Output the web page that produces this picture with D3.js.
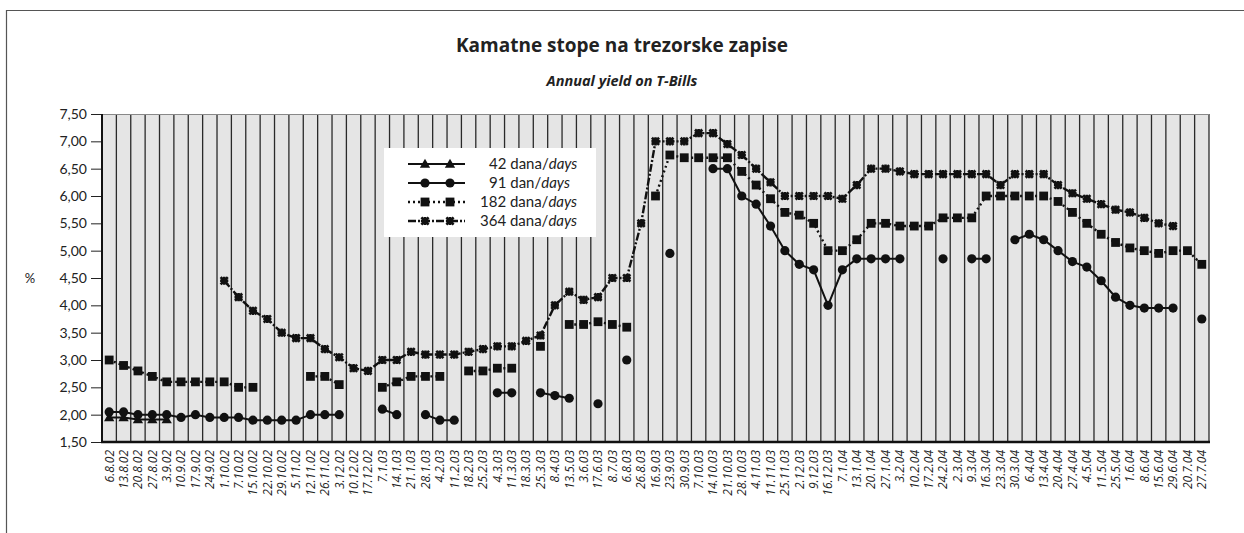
<!DOCTYPE html>
<html><head><meta charset="utf-8">
<script src="https://cdn.jsdelivr.net/npm/d3@7"></script>
<style>
body{margin:0;background:#fff}
svg{display:block}
text{font-family:Lato,"Open Sans",sans-serif;fill:#222}
</style>
</head><body>
<svg id="c" width="1244" height="533"></svg>
<script>
const dates = ["6.8.02","13.8.02","20.8.02","27.8.02","3.9.02","10.9.02","17.9.02","24.9.02","1.10.02","7.10.02","15.10.02","22.10.02","29.10.02","5.11.02","12.11.02","26.11.02","3.12.02","10.12.02","17.12.02","7.1.03","14.1.03","21.1.03","28.1.03","4.2.03","11.2.03","18.2.03","25.2.03","4.3.03","11.3.03","18.3.03","25.3.03","8.4.03","13.5.03","3.6.03","17.6.03","8.7.03","6.8.03","26.8.03","16.9.03","23.9.03","30.9.03","7.10.03","14.10.03","21.10.03","28.10.03","4.11.03","11.11.03","25.11.03","2.12.03","9.12.03","16.12.03","7.1.04","13.1.04","20.1.04","27.1.04","3.2.04","10.2.04","17.2.04","24.2.04","2.3.04","9.3.04","16.3.04","23.3.04","30.3.04","6.4.04","13.4.04","20.4.04","27.4.04","4.5.04","11.5.04","25.5.04","1.6.04","8.6.04","15.6.04","29.6.04","20.7.04","27.7.04"];

const yTicks = [1.5,2.0,2.5,3.0,3.5,4.0,4.5,5.0,5.5,6.0,6.5,7.0,7.5];

const _ = null;
const t42 = [1.95,1.95,1.91,1.91,1.91,_,_,_,_,_,_,_,_,_,_,_,_,_,_,_,_,_,_,_,_,_,_,_,_,_,_,_,_,_,_,_,_,_,_,_,_,_,_,_,_,_,_,_,_,_,_,_,_,_,_,_,_,_,_,_,_,_,_,_,_,_,_,_,_,_,_,_,_,_,_,_,_];

const t91 = [2.05,2.05,2.00,2.00,2.00,1.95,2.00,1.95,1.95,1.95,1.90,1.90,1.90,1.90,2.00,2.00,2.00,_,_,2.10,2.00,_,2.00,1.90,1.90,_,_,2.40,2.40,_,2.40,2.35,2.30,_,2.20,_,3.00,_,_,4.95,_,_,6.50,6.50,6.00,5.85,5.45,5.00,4.75,4.65,4.00,4.65,4.85,4.85,4.85,4.85,_,_,4.85,_,4.85,4.85,_,5.20,5.30,5.20,5.00,4.80,4.70,4.45,4.15,4.00,3.95,3.95,3.95,_,3.75];

const t182 = [3.00,2.90,2.80,2.70,2.60,2.60,2.60,2.60,2.60,2.50,2.50,_,_,_,2.70,2.70,2.55,_,_,2.50,2.60,2.70,2.70,2.70,_,2.80,2.80,2.85,2.85,_,3.25,_,3.65,3.65,3.70,3.65,3.60,_,6.00,6.75,6.70,6.70,6.70,6.70,6.45,6.20,5.95,5.70,5.65,5.50,5.00,5.00,5.20,5.50,5.50,5.45,5.45,5.45,5.60,5.60,5.60,6.00,6.00,6.00,6.00,6.00,5.90,5.70,5.50,5.30,5.15,5.05,5.00,4.95,5.00,5.00,4.75];

const t364 = [_,_,_,_,_,_,_,_,4.45,4.15,3.90,3.75,3.50,3.40,3.40,3.20,3.05,2.85,2.80,3.00,3.00,3.15,3.10,3.10,3.10,3.15,3.20,3.25,3.25,3.35,3.45,4.00,4.25,4.10,4.15,4.50,4.50,5.50,7.00,7.00,7.00,7.15,7.15,6.95,6.75,6.50,6.25,6.00,6.00,6.00,6.00,5.95,6.20,6.50,6.50,6.45,6.40,6.40,6.40,6.40,6.40,6.40,6.20,6.40,6.40,6.40,6.20,6.05,5.95,5.85,5.75,5.70,5.60,5.50,5.45,_,_];

const seriesLabels = ["42 dana/","91 dan/","182 dana/","364 dana/"];
const seriesSuffix = "days";
const titleText = "Kamatne stope na trezorske zapise";
const subtitleText = "Annual yield on T-Bills";

const svg = d3.select("#c");
const L = 102, R = 1209, T = 114, B = 442;

// outer frame
svg.append("path").attr("d","M6.5,540 V10.5 H1250").attr("fill","none").attr("stroke","#555").attr("stroke-width",1.2);

const x = d3.scaleBand().domain(dates).range([L,R]).padding(0);
const y = d3.scaleLinear().domain([1.5,7.5]).range([B,T]);

// plot background
svg.append("rect").attr("x",L).attr("y",T).attr("width",R-L).attr("height",B-T).attr("fill","#e5e5e5");

// vertical grid lines at category boundaries
const bounds = dates.slice(1).map(d=>x(d)).concat([R]);
svg.append("g").selectAll("line").data(bounds).join("line")
  .attr("x1",d=>d).attr("x2",d=>d).attr("y1",T).attr("y2",B)
  .attr("stroke","#2a2a2a").attr("stroke-width",1.3);
svg.append("line").attr("x1",L).attr("x2",R).attr("y1",T+0.5).attr("y2",T+0.5).attr("stroke","#888").attr("stroke-width",1);

// y axis
const yAxis = d3.axisLeft(y).tickValues(yTicks).tickSize(11).tickPadding(4)
  .tickFormat(d=>d3.format(".2f")(d).replace(".",","));
const gy = svg.append("g").attr("transform",`translate(${L},0)`).call(yAxis);
gy.select(".domain").remove();
gy.selectAll("line").attr("stroke","#222");
gy.selectAll("text").style("font-size","14px").attr("fill","#333");
svg.append("line").attr("x1",L).attr("x2",L).attr("y1",T).attr("y2",B+1).attr("stroke","#111").attr("stroke-width",2);

// x axis
const xAxis = d3.axisBottom(x).tickSize(0).tickPadding(0);
const gx = svg.append("g").attr("transform",`translate(0,${B})`).call(xAxis);
gx.select(".domain").remove();
gx.selectAll("text")
  .attr("transform","rotate(-90)")
  .attr("x",-8).attr("y",0).attr("dy","0.36em")
  .attr("text-anchor","end")
  .style("font-family","'Open Sans',sans-serif")
  .style("font-size","12px").style("font-style","italic").attr("fill","#333");
svg.append("line").attr("x1",L-1).attr("x2",R+1).attr("y1",B).attr("y2",B).attr("stroke","#111").attr("stroke-width",2.5);

// "%"
svg.append("text").attr("x",30).attr("y",y(4.5)).attr("dy","0.35em").attr("text-anchor","middle").style("font-size","13px").text("%");

// titles
svg.append("text").attr("x",622).attr("y",52).attr("text-anchor","middle")
  .style("font-family","'Open Sans',sans-serif")
  .style("font-size","19px").style("font-weight","bold").attr("fill","#111").text(titleText);
svg.append("text").attr("x",622).attr("y",86).attr("text-anchor","middle")
  .style("font-family","'Open Sans',sans-serif")
  .style("font-size","14.5px").style("font-weight","bold").style("font-style","italic").attr("fill","#111").text(subtitleText);

// markers
function marker(g, type, cx, cy){
  if(type==="tri"){
    g.append("path").attr("d",d3.symbol(d3.symbolTriangle,46)()).attr("transform",`translate(${cx},${cy+0.8})`).attr("fill","#111");
  } else if(type==="circ"){
    g.append("circle").attr("cx",cx).attr("cy",cy).attr("r",4.6).attr("fill","#111");
  } else if(type==="sq"){
    g.append("rect").attr("x",cx-4.4).attr("y",cy-4.4).attr("width",8.8).attr("height",8.8).attr("fill","#111");
  } else {
    const s=3.6;
    g.append("path").attr("d",`M${cx-s},${cy-s}L${cx+s},${cy+s}M${cx+s},${cy-s}L${cx-s},${cy+s}M${cx},${cy-s-0.5}L${cx},${cy+s+0.5}M${cx-s-0.5},${cy}L${cx+s+0.5},${cy}`)
      .attr("stroke","#111").attr("stroke-width",2.6).attr("fill","none");
  }
}

const series = [
  {vals:t42, type:"tri", dash:null, w:2},
  {vals:t91, type:"circ", dash:null, w:2},
  {vals:t182, type:"sq", dash:"2,3", w:2.4},
  {vals:t364, type:"x", dash:"8,2,2,2", w:2.4}
];

const line = d3.line().defined(d=>d.v!==null).x(d=>x(d.k)+x.bandwidth()/2).y(d=>y(d.v));
series.forEach(s=>{
  const pts = dates.map((k,i)=>({k, v:s.vals[i]}));
  const g = svg.append("g");
  g.append("path").attr("d",line(pts)).attr("fill","none").attr("stroke","#111")
    .attr("stroke-width",s.w).attr("stroke-dasharray",s.dash);
  pts.filter(d=>d.v!==null).forEach(d=>marker(g,s.type,x(d.k)+x.bandwidth()/2,y(d.v)));
});

// legend
const lg = svg.append("g");
lg.append("rect").attr("x",384).attr("y",148).attr("width",212).attr("height",89).attr("fill","#fff");
const rowsY = [164,183,202,221];
const textX = [489,489,480,480];
series.forEach((s,i)=>{
  const yy = rowsY[i];
  lg.append("line").attr("x1",408).attr("x2",465).attr("y1",yy).attr("y2",yy).attr("stroke","#111")
    .attr("stroke-width",s.w).attr("stroke-dasharray",s.dash);
  marker(lg,s.type,425,yy); marker(lg,s.type,450,yy);
  const t = lg.append("text").attr("x",textX[i]).attr("y",yy).attr("dy","0.35em").style("font-size","15px").attr("fill","#222");
  t.append("tspan").text(seriesLabels[i]);
  t.append("tspan").style("font-style","italic").text(seriesSuffix);
});
</script>
</body></html>
